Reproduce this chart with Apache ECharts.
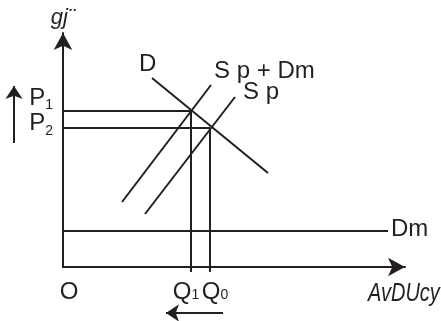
<!DOCTYPE html>
<html>
<head>
<meta charset="utf-8">
<script src="https://cdn.jsdelivr.net/npm/echarts@6/dist/echarts.min.js"></script>
<style>
html, body { margin: 0; padding: 0; background: #fff; }
#chart { width: 441px; height: 321px; }
</style>
</head>
<body>
<div id="chart"></div>
<script>
// units: x = quantity, y = price, origin at O
const demand = [[205, 94], [89, 189]];
const supplyPlusDm = [[59, 65], [148, 182]];
const supply = [[82, 53], [172, 170]];
const damage = [[0, 36], [325, 36]];

const priceValues = [156, 139];          // P1, P2
const priceLabels = ['P1', 'P2'];
const qtyValues = [0, 128, 147];         // O, Q1, Q0
const qtyLabels = ['O', 'Q1', 'Q0'];

const p1Guide = [[0, 156], [128, 156]];
const p2Guide = [[0, 139], [147, 139]];
const q1Guide = [[128, -5], [128, 156]];
const q0Guide = [[147, -5], [147, 139]];

const priceArrow = [[-49, 124], [-49, 181]];
const qtyArrow = [[160, -46], [103, -46]];

const seriesNames = ['D', 'S p + Dm', 'S p', 'Dm'];
const yTitle = 'gj¨';
const xTitle = 'AvDUcy';

const ink = '#231f20';
const font = '"Liberation Sans", Arial, sans-serif';

function lineSeries(data, extra) {
    return Object.assign({
        type: 'line',
        data: data,
        showSymbol: false,
        clip: false,
        silent: true,
        lineStyle: { color: ink, width: 2 },
    }, extra || {});
}

function endLabel(text, size, dx, dy) {
    return {
        show: true,
        formatter: text,
        distance: 0,
        offset: [dx, dy],
        align: 'left',
        verticalAlign: 'middle',
        color: ink,
        fontFamily: font,
        fontSize: size,
    };
}

// 'P1' -> big letter + small index
function subText(label) {
    if (label.length < 2) return '{m|' + label + '}';
    return '{m|' + label[0] + '}{s|' + label.slice(1) + '}';
}

function richStyle(subTop, extra) {
    return {
        m: Object.assign({ fontFamily: font, fontSize: 24, lineHeight: 24, fill: ink }, extra && extra.m),
        s: Object.assign({ fontFamily: font, fontSize: 14, lineHeight: 14, fill: ink,
            verticalAlign: 'middle', padding: [subTop, 0, 0, 0] }, extra && extra.s),
    };
}

const chart = echarts.init(document.getElementById('chart'), null, { renderer: 'canvas' });

chart.setOption({
    animation: false,
    backgroundColor: '#fff',
    grid: { left: 63, top: 33, right: 36, bottom: 54 },
    xAxis: {
        type: 'value',
        min: 0,
        max: 342,
        axisLine: {
            symbol: ['none', 'arrow'],
            symbolSize: [14, 17],
            lineStyle: { color: ink, width: 2 },
        },
        axisTick: { show: false },
        axisLabel: { show: false },
        splitLine: { show: false },
    },
    yAxis: {
        type: 'value',
        min: 0,
        max: 234,
        name: yTitle,
        nameLocation: 'end',
        nameGap: 4,
        nameTextStyle: { fontFamily: font, fontStyle: 'italic', fontSize: 22, color: ink },
        axisLine: {
            symbol: ['none', 'arrow'],
            symbolSize: [14, 17],
            lineStyle: { color: ink, width: 2 },
        },
        axisTick: { show: false },
        axisLabel: { show: false },
        splitLine: { show: false },
    },
    series: [
        lineSeries(demand, { endLabel: endLabel(seriesNames[0], 24, -13, -14) }),
        lineSeries(supplyPlusDm, { endLabel: endLabel(seriesNames[1], 24, 3, -14) }),
        lineSeries(supply, { endLabel: endLabel(seriesNames[2], 24, 8, -5) }),
        lineSeries(damage, { endLabel: endLabel(seriesNames[3], 24, 3, -2) }),
        lineSeries(p1Guide),
        lineSeries(p2Guide),
        lineSeries(q1Guide),
        lineSeries(q0Guide),
        {
            type: 'lines',
            coordinateSystem: 'cartesian2d',
            clip: false,
            silent: true,
            symbol: ['none', 'arrow'],
            symbolSize: 13,
            lineStyle: { color: ink, width: 2, opacity: 1 },
            data: [{ coords: priceArrow }, { coords: qtyArrow }],
        },
    ],
});

// tick labels placed at the axis positions of their values
const toPx = p => chart.convertToPixel({ gridIndex: 0 }, p);
const priceShift = [[-10, -13, 14], [-10, -5, 16]];   // dx, dy, subscript drop
const qtyShift = [[6, 13], [-5, 13], [5, 13]];
const labels = [];

priceValues.forEach((v, i) => {
    const pt = toPx([0, v]);
    labels.push({
        type: 'text',
        x: pt[0] + priceShift[i][0],
        y: pt[1] + priceShift[i][1],
        style: {
            text: subText(priceLabels[i]),
            align: 'right',
            verticalAlign: 'middle',
            rich: richStyle(priceShift[i][2]),
        },
    });
});

qtyValues.forEach((v, i) => {
    const pt = toPx([v, 0]);
    labels.push({
        type: 'text',
        x: pt[0] + qtyShift[i][0],
        y: pt[1] + qtyShift[i][1],
        style: {
            text: subText(qtyLabels[i]),
            align: 'center',
            verticalAlign: 'top',
            rich: richStyle(7),
        },
    });
});

labels.push({
    type: 'text',
    x: 368,
    y: 282,
    scaleX: 0.8,
    style: {
        text: xTitle,
        font: 'italic 25px "Liberation Sans", Arial, sans-serif',
        fill: ink,
        align: 'left',
        verticalAlign: 'top',
    },
});

chart.setOption({ graphic: labels });
</script>
</body>
</html>
